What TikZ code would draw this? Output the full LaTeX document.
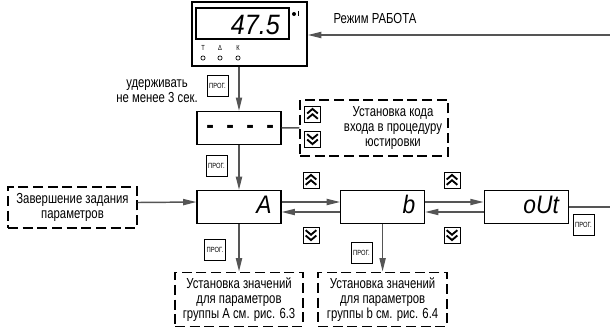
\documentclass[tikz,border=0pt]{standalone}
\usepackage{fontspec}
\setmainfont{Liberation Sans}[FakeStretch=0.78]
\newfontfamily\segfont{Liberation Sans}[FakeStretch=0.9]
\usetikzlibrary{positioning,arrows.meta}
\definecolor{wire}{HTML}{555555}

\begin{document}
\begin{tikzpicture}[x=0.75pt, y=-0.75pt, font=\fontsize{10.9}{11.25}\selectfont,
      disp/.style={draw, line width=0.8pt, minimum width=63pt, minimum height=24.75pt, inner xsep=0pt, inner ysep=0pt,
                   text width=49pt, text height=9pt, text depth=0pt, align=right,
                   font=\segfont\itshape\fontsize{19}{19}\selectfont},
      note/.style={draw, dash pattern=on 7.5pt off 3.5pt, line width=1.1pt, align=center, inner sep=0pt},
      key/.style={draw, line width=0.6pt, minimum size=12pt, inner sep=0pt},
      prog/.style={key, minimum size=15.75pt, font=\fontsize{5.6}{6}\selectfont},
      upkey/.style={key, path picture={\draw[line width=1.4pt]
          ([shift={(-4pt,0.4pt)}]path picture bounding box.center) -- ++(4pt,3.4pt) -- ++(4pt,-3.4pt)
          ([shift={(-4pt,-3.6pt)}]path picture bounding box.center) -- ++(4pt,3.4pt) -- ++(4pt,-3.4pt);}},
      downkey/.style={key, path picture={\draw[line width=1.4pt]
          ([shift={(-4pt,-0.4pt)}]path picture bounding box.center) -- ++(4pt,-3.4pt) -- ++(4pt,3.4pt)
          ([shift={(-4pt,3.6pt)}]path picture bounding box.center) -- ++(4pt,-3.4pt) -- ++(4pt,3.4pt);}},
      lamp/.style={circle, draw, line width=0.5pt, minimum size=3.2pt, inner sep=0pt},
      lampname/.style={inner sep=0pt, font=\fontsize{5.5}{5.5}\selectfont},
      arr/.style={-{Triangle[length=10pt, width=4.6pt]}, wire, line width=1.1pt},
      wireline/.style={wire, line width=1.1pt}]
    \useasboundingbox (0,0) rectangle (610,326);
    % прибор в режиме РАБОТА
    \node[draw, line width=1.4pt, minimum width=86.25pt, minimum height=48pt] (dev) at (249.5,34) {};
    \node[draw, line width=0.8pt, minimum width=69.75pt, minimum height=23.25pt, inner xsep=0pt, inner ysep=0pt,
          text width=56pt, text height=17pt, text depth=0pt, align=right,
          font=\segfont\itshape\fontsize{21}{21}\selectfont] (scr) at (242.5,23.5) {47.5};
    \fill (294,14) circle (1.5pt);
    \draw[line width=0.5pt] (298,11) -- (298,16);
    \node[lamp] (lt) at (203,58) {};
    \node[lamp] (ld) at (220,58) {};
    \node[lamp] (lk) at (238,58) {};
    \node[lampname, above=3.5pt of lt] {Т};
    \node[lampname, above=3.5pt of ld] {Δ};
    \node[lampname, above=3.5pt of lk] {К};
    \coordinate (rin) at (610,35);
    \draw[arr] (rin) -- (rin -| dev.east);
    \node (mode) at (375,18) {Режим РАБОТА};
    \node[prog] (k1) at (217.5,86) {ПРОГ.};
    \node[align=center] (hold) at (157,91) {удерживать\\не менее 3 сек.};
    % цепочка индикаций
    \node[disp] (dA) at (239,207) {A};
    \node[disp, above=33.75pt of dA] (dash) {\upshape\bfseries\mbox{-\hspace{9.3pt}-\hspace{9.3pt}-\hspace{9.3pt}-}};
    \node[disp, right=43.9pt of dA] (db) {b};
    \node[disp, right=43.9pt of db] (dout) {oUt};
    \draw[arr] (dev.south -| dash) -- (dash);
    \node[prog] (k2) at (216.5,166) {ПРОГ.};
    \draw[arr] (dash) -- (dA);
    % код входа
    \node[note, minimum width=111pt, minimum height=42pt] (grp) at (374,128) {};
    \node[align=center] (grptxt) at (393,128) {Установка кода\\входа в процедуру\\юстировки};
    \node[upkey] (gu) at (312.5,114) {};
    \node[downkey] (gd) at (312.5,139) {};
    \draw[wireline] (dash) -- (grp);
    \node[note, minimum width=96.75pt, minimum height=30.75pt] (fin) at (72.5,207.5) {Завершение задания\\параметров};
    \draw[arr] ([yshift=3.75pt]fin.east) -- ([yshift=3.75pt]dA.west);
    \node[upkey] (u1) at (311,180) {};
    \node[downkey] (d1) at (311,235) {};
    \node[upkey] (u2) at (452,180) {};
    \node[downkey] (d2) at (452,235) {};
    \draw[arr] ([yshift=3.75pt]dA.east) -- ([yshift=3.75pt]db.west);
    \draw[arr] ([yshift=-3.75pt]db.west) -- ([yshift=-3.75pt]dA.east);
    \draw[arr] ([yshift=3.75pt]db.east) -- ([yshift=3.75pt]dout.west);
    \draw[arr] ([yshift=-3.75pt]dout.west) -- ([yshift=-3.75pt]db.east);
    \coordinate (rout) at (610,207);
    \draw[wireline] (dout) -- (rout);
    \node[prog] (k5) at (583.5,225) {ПРОГ.};
    % группы параметров
    \node[note, below=35.6pt of dA, minimum width=96pt, minimum height=40.5pt] (noteA) {Установка значений\\для параметров\\группы А см. рис. 6.3};
    \node[note, below=35.6pt of db, minimum width=96.75pt, minimum height=40.5pt] (noteB) {Установка значений\\для параметров\\группы b см. рис. 6.4};
    \draw[arr] (dA.south) -- (dA.south |- noteA.north);
    \node[prog] (k3) at (215,250) {ПРОГ.};
    \draw[arr] (db.south) -- (db.south |- noteB.north);
    \node[prog] (k4) at (361.5,253) {ПРОГ.};
  \end{tikzpicture}
\end{document}
